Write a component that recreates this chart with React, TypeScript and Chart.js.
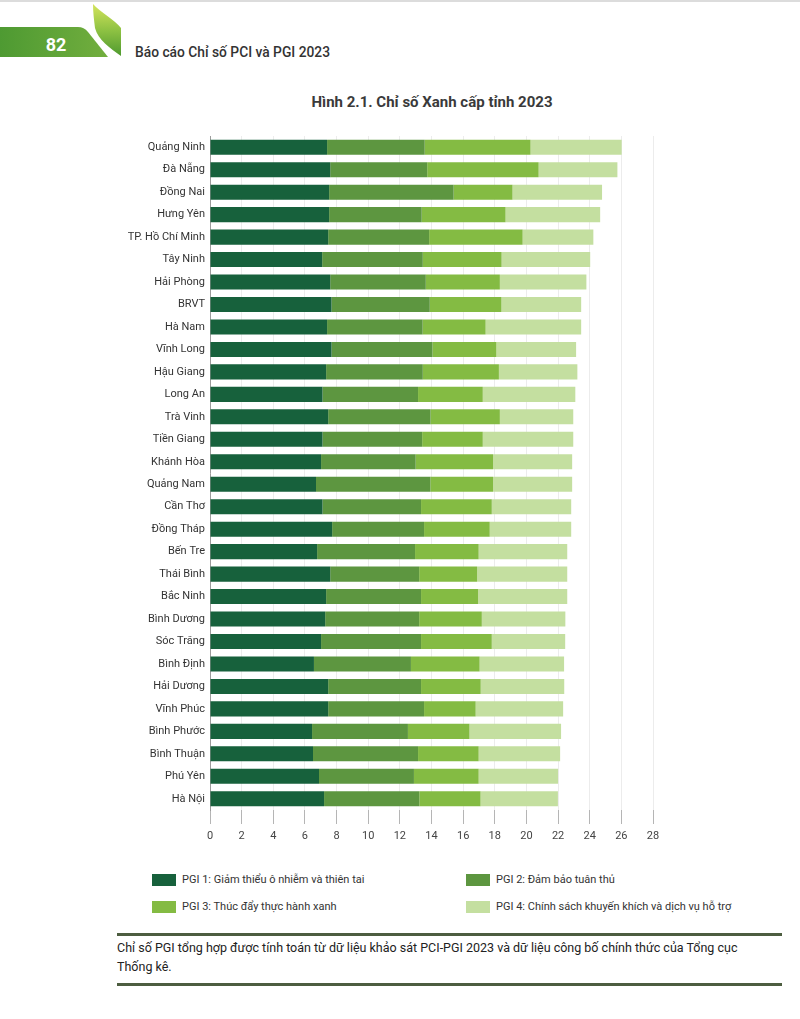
import React, { useEffect, useRef } from "react";
import { Chart, registerables } from "chart.js";

Chart.register(...registerables);

const provinces = [
  "Quảng Ninh", "Đà Nẵng", "Đồng Nai", "Hưng Yên", "TP. Hồ Chí Minh", "Tây Ninh",
  "Hải Phòng", "BRVT", "Hà Nam", "Vĩnh Long", "Hậu Giang", "Long An", "Trà Vinh",
  "Tiền Giang", "Khánh Hòa", "Quảng Nam", "Cần Thơ", "Đồng Tháp", "Bến Tre",
  "Thái Bình", "Bắc Ninh", "Bình Dương", "Sóc Trăng", "Bình Định", "Hải Dương",
  "Vĩnh Phúc", "Bình Phước", "Bình Thuận", "Phú Yên", "Hà Nội",
];

const pgi1 = [7.40, 7.60, 7.53, 7.53, 7.47, 7.09, 7.60, 7.68, 7.40, 7.68, 7.34, 7.11, 7.47, 7.11, 7.02, 6.70, 7.11, 7.72, 6.77, 7.60, 7.34, 7.28, 7.02, 6.57, 7.47, 7.47, 6.45, 6.51, 6.89, 7.21];
const pgi2 = [6.17, 6.13, 7.87, 5.85, 6.38, 6.36, 6.04, 6.21, 6.04, 6.38, 6.11, 6.04, 6.47, 6.30, 5.98, 7.23, 6.23, 5.81, 6.19, 5.62, 6.00, 5.94, 6.32, 6.13, 5.87, 6.06, 6.06, 6.64, 6.00, 6.02];
const pgi3 = [6.69, 7.04, 3.72, 5.30, 5.91, 4.98, 4.68, 4.53, 3.98, 4.04, 4.81, 4.09, 4.38, 3.83, 4.89, 3.96, 4.47, 4.15, 4.02, 3.66, 3.60, 3.96, 4.47, 4.34, 3.77, 3.26, 3.89, 3.83, 4.09, 3.87];
const pgi4 = [5.76, 4.98, 5.66, 5.98, 4.47, 5.60, 5.47, 5.04, 6.04, 5.04, 4.96, 5.85, 4.64, 5.72, 5.00, 5.00, 5.02, 5.15, 5.60, 5.70, 5.64, 5.28, 4.64, 5.34, 5.28, 5.53, 5.79, 5.15, 5.02, 4.89];

const seriesLabels = [
  "PGI 1: Giảm thiểu ô nhiễm và thiên tai",
  "PGI 2: Đảm bảo tuân thủ",
  "PGI 3: Thúc đẩy thực hành xanh",
  "PGI 4: Chính sách khuyến khích và dịch vụ hỗ trợ",
];
const seriesColors = ["#17613c", "#5d9640", "#84bb43", "#c4dfa0"];

const chartTitle = "Hình 2.1. Chỉ số Xanh cấp tỉnh 2023";
const headerText = "Báo cáo Chỉ số PCI và PGI 2023";
const pageNumber = "82";
const noteLine1 = "Chỉ số PGI tổng hợp được tính toán từ dữ liệu khảo sát PCI-PGI 2023 và dữ liệu công bố chính thức của Tổng cục";
const noteLine2 = "Thống kê.";

const FONT = "Roboto, 'Noto Sans', sans-serif";

function BarChart() {
  const ref = useRef<HTMLCanvasElement | null>(null);
  useEffect(() => {
    if (!ref.current) return;
    const values = [pgi1, pgi2, pgi3, pgi4];
    const chart = new Chart(ref.current, {
      type: "bar",
      data: {
        labels: provinces,
        datasets: values.map((v, i) => ({
          label: seriesLabels[i],
          data: v,
          backgroundColor: seriesColors[i],
          borderWidth: 0,
          barPercentage: 0.67,
          categoryPercentage: 1,
        })),
      },
      options: {
        indexAxis: "y",
        responsive: false,
        animation: false,
        devicePixelRatio: 1,
        layout: { padding: { top: 16, right: 27, left: 0, bottom: 0 } },
        plugins: {
          legend: { display: false },
          tooltip: { enabled: false },
          title: { display: false },
        },
        scales: {
          x: {
            stacked: true,
            min: 0,
            max: 28,
            ticks: {
              stepSize: 2,
              padding: 6,
              color: "#444",
              font: { family: FONT, size: 11 },
            },
            grid: {
              color: "#ececec",
              tickColor: "#b5b5b5",
              tickLength: 14,
              lineWidth: 1,
            },
            border: { display: false },
            afterFit: (scale: any) => {
              scale.height = 40;
            },
          },
          y: {
            stacked: true,
            ticks: {
              padding: 5,
              color: "#333",
              font: { family: FONT, size: 11 },
            },
            grid: { display: false, drawTicks: false },
            border: { display: true, color: "#9c9c9c", width: 1 },
            afterFit: (scale: any) => {
              scale.width = 90;
            },
          },
        },
      },
    } as any);
    return () => chart.destroy();
  }, []);
  return (
    <canvas
      ref={ref}
      width={560}
      height={730}
      style={{ position: "absolute", left: 120, top: 120, width: 560, height: 730 }}
    />
  );
}

export default function App() {
  return (
    <div
      style={{
        position: "absolute",
        left: 0,
        top: 0,
        width: 800,
        height: 1019,
        background: "#ffffff",
        overflow: "hidden",
        fontFamily: FONT,
      }}
    >
      <svg width={800} height={70} style={{ position: "absolute", left: 0, top: 0 }}>
        <defs>
          <linearGradient id="tabGrad" x1="0" y1="0" x2="1" y2="0">
            <stop offset="0" stopColor="#4e9a32" />
            <stop offset="1" stopColor="#72ae3e" />
          </linearGradient>
          <linearGradient id="leafGrad" x1="0" y1="0" x2="0" y2="1">
            <stop offset="0" stopColor="#d4e45c" />
            <stop offset="0.5" stopColor="#8fc243" />
            <stop offset="1" stopColor="#4f9a2f" />
          </linearGradient>
        </defs>
        <rect x={0} y={0} width={800} height={2} fill="#dcdcdc" />
        <path d="M0,27 L78,27 Q84,27 88,32 L108,57 L0,57 Z" fill="url(#tabGrad)" />
        <text x={56} y={51} textAnchor="middle" fill="#ffffff" fontSize={18} fontWeight={700} fontFamily={FONT}>
          {pageNumber}
        </text>
        <path
          d="M93,4 C100,12 115,20 121,28 L121,56 C110,48 98,40 95,28 C94,20 93,12 93,4 Z"
          fill="url(#leafGrad)"
        />
        <text x={135} y={57} fill="#333" fontSize={13.8} fontWeight={500} fontFamily={FONT}>
          {headerText}
        </text>
      </svg>

      <div
        style={{
          position: "absolute",
          left: 232,
          top: 92,
          width: 400,
          textAlign: "center",
          fontSize: 15,
          lineHeight: "20px",
          fontWeight: 700,
          color: "#3a3a3a",
          whiteSpace: "nowrap",
        }}
      >
        {chartTitle}
      </div>

      <BarChart />

      {seriesLabels.map((lab, i) => {
        const col = i % 2;
        const row = Math.floor(i / 2);
        const sx = col === 0 ? 152 : 466;
        const cy = row === 0 ? 880 : 907;
        return (
          <div key={lab}>
            <div
              style={{
                position: "absolute",
                left: sx,
                top: cy - 6,
                width: 24,
                height: 12,
                background: seriesColors[i],
              }}
            />
            <div
              style={{
                position: "absolute",
                left: sx + 30,
                top: cy - 7,
                fontSize: 11,
                lineHeight: "14px",
                color: "#333",
                whiteSpace: "nowrap",
              }}
            >
              {lab}
            </div>
          </div>
        );
      })}

      <div style={{ position: "absolute", left: 117, top: 933, width: 665, height: 3, background: "#4d5d40" }} />
      <div
        style={{
          position: "absolute",
          left: 117,
          top: 938,
          fontSize: 12.5,
          lineHeight: "19px",
          color: "#222",
          whiteSpace: "nowrap",
        }}
      >
        {noteLine1}
        <br />
        {noteLine2}
      </div>
      <div style={{ position: "absolute", left: 117, top: 983, width: 665, height: 3, background: "#4d5d40" }} />
    </div>
  );
}
